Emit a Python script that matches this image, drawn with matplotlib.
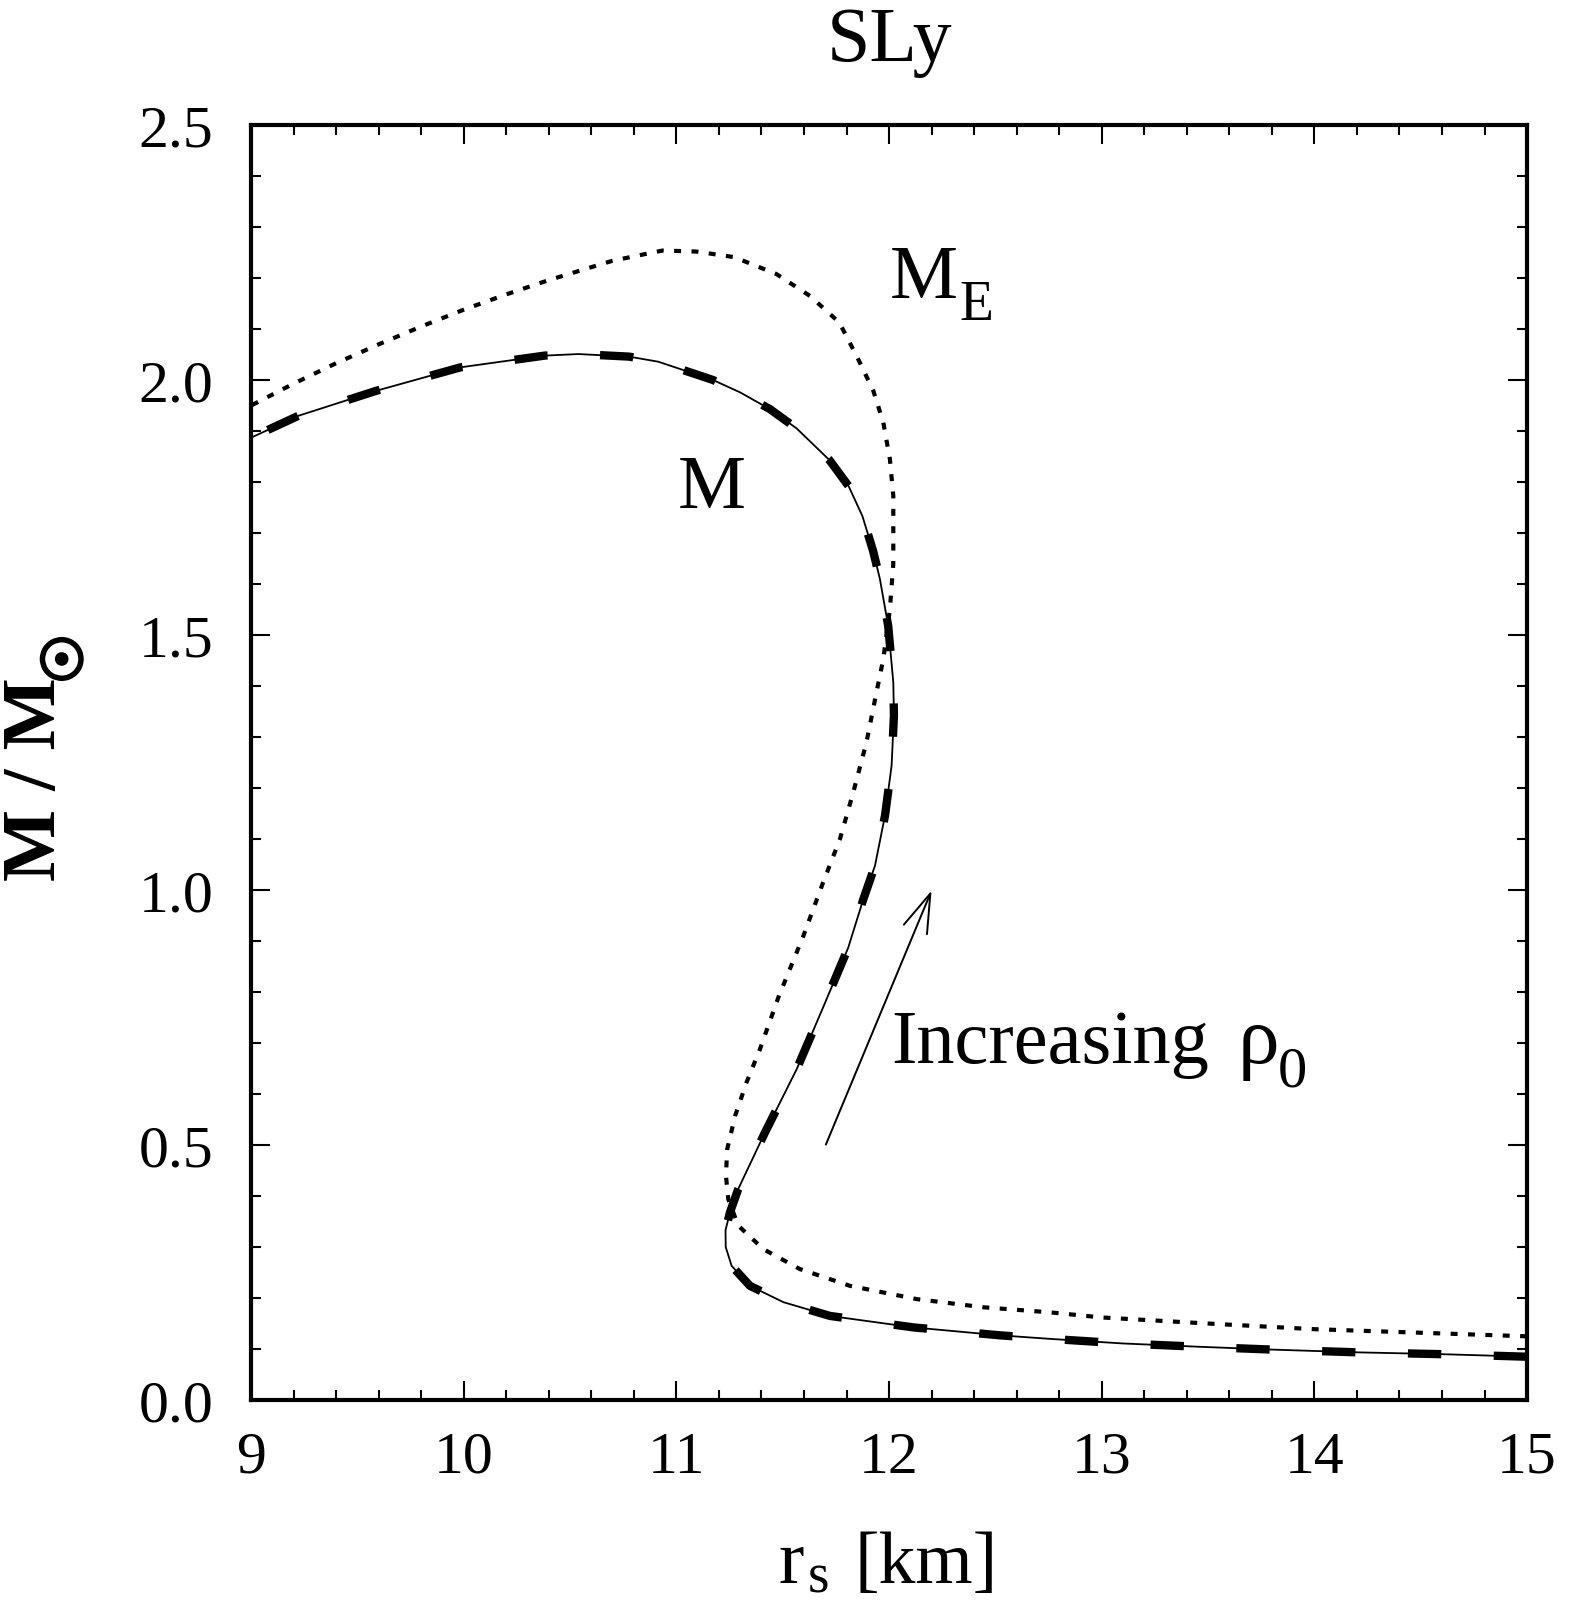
import matplotlib
matplotlib.use('Agg')
import matplotlib.pyplot as plt
import matplotlib.patheffects as pe
from matplotlib.ticker import MultipleLocator, FormatStrFormatter

plt.rcParams['font.family'] = ['Liberation Serif', 'DejaVu Serif']

# ---- data (ordered from low to high central density) ----
r_M = [15.0, 14.6, 14.21, 13.8, 13.46, 13.1, 12.757, 12.52, 12.114, 11.722,
       11.503, 11.346, 11.26, 11.232, 11.231, 11.252, 11.291, 11.417, 11.566, 11.69,
       11.808, 11.879, 11.934, 11.981, 12.012, 12.023, 12.02, 11.996, 11.957,
       11.925, 11.875, 11.81, 11.72, 11.566, 11.44, 11.299, 11.173, 10.915, 10.777,
       10.539, 10.381, 9.985, 9.589, 9.223, 9.0]
M = [0.085, 0.09, 0.0935, 0.099, 0.1045, 0.111, 0.12, 0.127, 0.1425, 0.165,
     0.192, 0.224, 0.263, 0.300, 0.333, 0.368, 0.414, 0.525, 0.649, 0.77,
     0.887, 0.982, 1.048, 1.146, 1.244, 1.342, 1.407, 1.518, 1.61,
     1.665, 1.733, 1.792, 1.843, 1.905, 1.943, 1.976, 2.0, 2.036, 2.046,
     2.051, 2.048, 2.025, 1.979, 1.930, 1.887]

r_ME = [15.0, 14.5, 14.0, 13.46, 13.0, 12.757, 12.443, 12.13, 11.816, 11.58,
        11.409, 11.291, 11.244, 11.233, 11.239, 11.276, 11.33, 11.393, 11.48,
        11.597, 11.69, 11.769, 11.832, 11.894, 11.941, 11.973, 12.004, 12.02,
        12.02, 12.02, 12.004, 11.973, 11.926, 11.855, 11.766, 11.628, 11.47,
        11.272, 11.094, 10.935, 10.7, 10.4, 10.2, 10.0, 9.8, 9.6, 9.4, 9.2, 9.0]
ME = [0.125, 0.132, 0.139, 0.151, 0.162, 0.172, 0.182, 0.198, 0.224, 0.257,
      0.296, 0.342, 0.394, 0.44, 0.492, 0.557, 0.623, 0.688, 0.79,
      0.91, 1.015, 1.1, 1.192, 1.29, 1.388, 1.453, 1.551, 1.64,
      1.70, 1.773, 1.845, 1.917, 1.979, 2.041, 2.113, 2.165, 2.208,
      2.241, 2.252, 2.254, 2.234, 2.196, 2.168, 2.138, 2.105, 2.07, 2.033, 1.993, 1.95]

xticks = [9, 10, 11, 12, 13, 14, 15]
yticks = [0.0, 0.5, 1.0, 1.5, 2.0, 2.5]

W, H = 1572, 1606
fig = plt.figure(figsize=(W / 100, H / 100), dpi=100)
ax = fig.add_axes([0.1597, 0.1276, 0.8117, 0.7939])


def fx(px):
    return px / W


def fy(py):
    return 1 - py / H


ax.plot(r_ME, ME, color='black', lw=3, dashes=(1.67, 2.5))
ax.plot(r_M, M, color='black', lw=1.3)
ax.plot(r_M, M, color='black', lw=6, dashes=(4, 6.3))

ax.set_xlim(9, 15)
ax.set_ylim(0, 2.5)
ax.set_xticks(xticks)
ax.set_yticks(yticks)
ax.xaxis.set_minor_locator(MultipleLocator(0.2))
ax.yaxis.set_minor_locator(MultipleLocator(0.1))
ax.yaxis.set_major_formatter(FormatStrFormatter('%.1f'))
ax.xaxis.set_major_formatter(FormatStrFormatter('%d'))

ax.tick_params(which='both', direction='in', top=True, right=True, width=1.5)
ax.tick_params(which='major', length=14)
ax.tick_params(which='minor', length=7)
ax.tick_params(axis='x', which='major', labelsize=43, pad=22)
ax.tick_params(axis='y', which='major', labelsize=43, pad=27)
for s in ax.spines.values():
    s.set_linewidth(3)

ax.set_title('SLy', fontsize=56, pad=47)

# x label: r_s [km]
fig.text(fx(778), fy(1583), 'r', fontsize=55, ha='left', va='baseline')
fig.text(fx(808), fy(1593), 's', fontsize=40, ha='left', va='baseline')
fig.text(fx(854), fy(1583), '[km]', fontsize=53, ha='left', va='baseline')

# y label: M / M_sun
fig.text(fx(55), fy(881), 'M / M', fontsize=55, fontweight='bold', rotation=90,
         rotation_mode='anchor', ha='left', va='baseline')
fig.text(fx(67), fy(660), '\u2609', fontsize=40, fontweight='bold', rotation=90,
         rotation_mode='anchor', ha='center', va='center', family=['DejaVu Sans'],
         path_effects=[pe.withStroke(linewidth=2.5, foreground='black')])

# curve labels
ax.text(12.004, 2.163, 'M', fontsize=55, ha='left', va='baseline')
ax.text(12.333, 2.1196, 'E', fontsize=40, ha='left', va='baseline')
ax.text(11.007, 1.751, 'M', fontsize=55, ha='left', va='baseline')
ax.text(12.012, 0.663, 'Increasing', fontsize=55, ha='left', va='baseline')
ax.text(13.64, 0.663, 'ρ', fontsize=60, ha='left', va='baseline')
ax.text(13.83, 0.6176, '0', fontsize=42, ha='left', va='baseline')

ax.annotate('', xy=(12.2, 0.999), xytext=(11.703, 0.501),
            arrowprops=dict(arrowstyle='->,head_length=1.4,head_width=0.45',
                            lw=1.4, color='black', mutation_scale=20,
                            shrinkA=0, shrinkB=0))

fig.savefig('out.png', dpi=100)
